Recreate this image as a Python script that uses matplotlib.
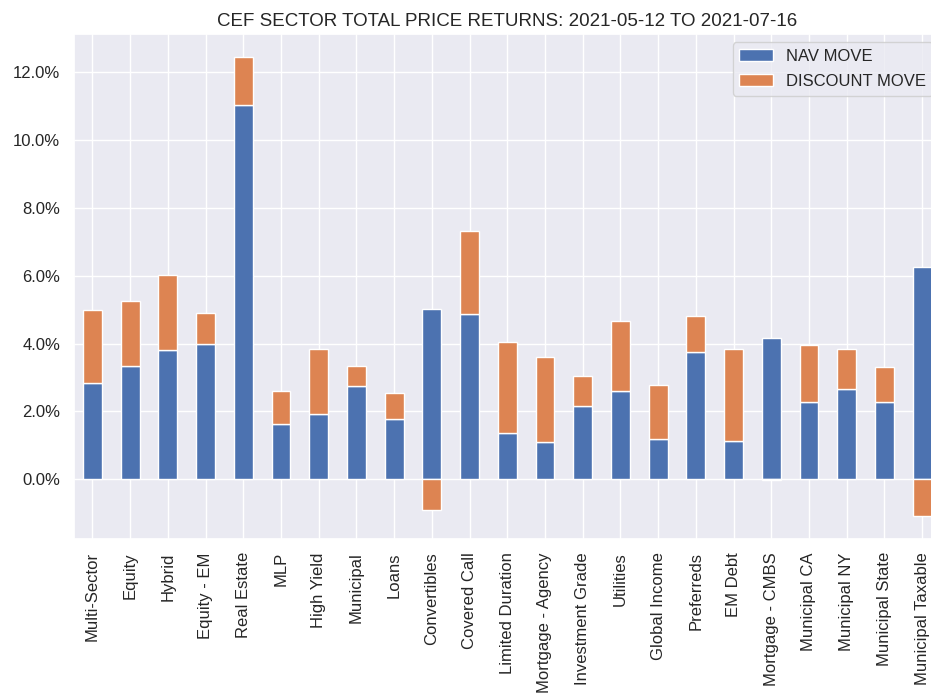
import numpy as np
import matplotlib
matplotlib.use("Agg")
import matplotlib.pyplot as plt
import matplotlib.ticker as mtick
import seaborn as sns

# sector names and returns (in %)
sectors = ['Multi-Sector', 'Equity', 'Hybrid', 'Equity - EM', 'Real Estate', 'MLP',
           'High Yield', 'Municipal', 'Loans', 'Convertibles', 'Covered Call',
           'Limited Duration', 'Mortgage - Agency', 'Investment Grade', 'Utilities',
           'Global Income', 'Preferreds', 'EM Debt', 'Mortgage - CMBS', 'Municipal CA',
           'Municipal NY', 'Municipal State', 'Municipal Taxable']
nav_move = [2.84, 3.33, 3.80, 3.98, 11.03, 1.64, 1.92, 2.74, 1.79, 5.01, 4.86,
            1.37, 1.09, 2.15, 2.61, 1.18, 3.76, 1.14, 4.15, 2.29, 2.65, 2.29, 6.25]
discount_move = [2.15, 1.92, 2.23, 0.91, 1.41, 0.97, 1.91, 0.59, 0.76, -0.90, 2.46,
                 2.68, 2.51, 0.90, 2.05, 1.59, 1.04, 2.69, -0.03, 1.67, 1.18, 1.02, -1.08]
title = 'CEF SECTOR TOTAL PRICE RETURNS: 2021-05-12 TO 2021-07-16'

sns.set_theme(style='darkgrid')
plt.rcParams['font.family'] = ['Liberation Sans', 'DejaVu Sans']

fig = plt.figure(figsize=(9.31, 7.0), dpi=100)
# axes runs past the right edge, as in the cropped original
ax = fig.add_axes([0.079, 0.23, 0.9317, 0.7214])

x = np.arange(len(sectors))
nav = np.array(nav_move)
disc = np.array(discount_move)
# stack like pandas: positives on positives, negatives from zero
disc_bottom = np.where(disc >= 0, np.maximum(nav, 0), np.minimum(nav, 0))

ax.bar(x, nav, width=0.5, color='#4C72B0', edgecolor='white', linewidth=1, label='NAV MOVE')
ax.bar(x, disc, width=0.5, bottom=disc_bottom, color='#DD8452', edgecolor='white',
       linewidth=1, label='DISCOUNT MOVE')

ax.set_xticks(x)
ax.set_xticklabels(sectors, rotation=90, fontsize=12)
ax.set_xlim(-0.5, len(sectors) - 0.5)
ax.yaxis.set_major_locator(mtick.MultipleLocator(2))
ax.yaxis.set_major_formatter(mtick.PercentFormatter(xmax=100, decimals=1))
ax.tick_params(axis='y', labelsize=12)
ax.set_title(title, fontsize=13.5)
ax.legend(loc='upper right', fontsize=12, labelspacing=0.6)

fig.savefig('out.png', dpi=100)
